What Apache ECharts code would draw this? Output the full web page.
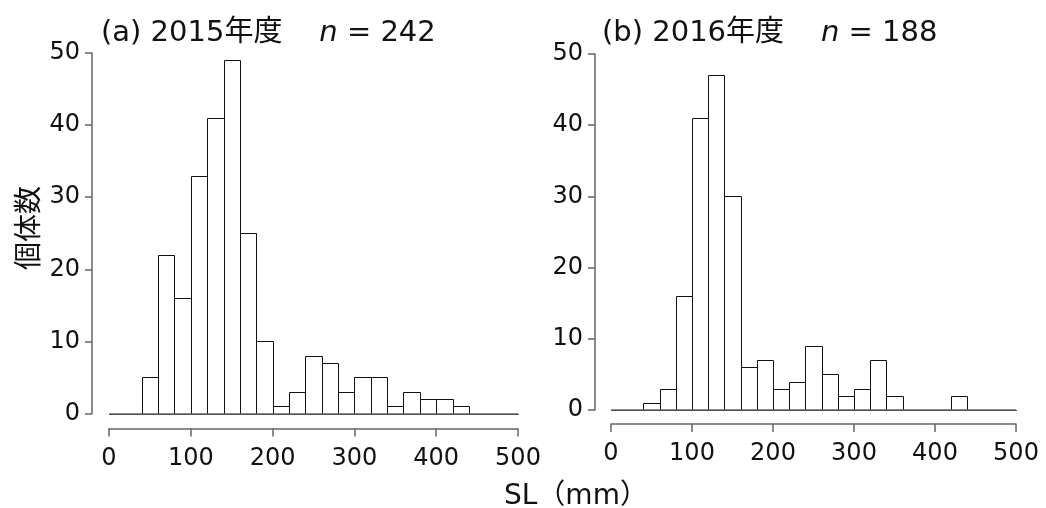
<!DOCTYPE html>
<html>
<head>
<meta charset="utf-8">
<script src="https://cdn.jsdelivr.net/npm/echarts@6/dist/echarts.min.js"></script>
<style>
  html, body { margin: 0; padding: 0; background: #fff; }
  #chart { width: 1046px; height: 508px; }
</style>
</head>
<body>
<div id="chart"></div>
<script>
// bin edges (mm), 20 mm wide
var binStart = [0, 20, 40, 60, 80, 100, 120, 140, 160, 180, 200, 220, 240, 260, 280, 300, 320, 340, 360, 380, 400, 420, 440, 460, 480];
var binEnd   = [20, 40, 60, 80, 100, 120, 140, 160, 180, 200, 220, 240, 260, 280, 300, 320, 340, 360, 380, 400, 420, 440, 460, 480, 500];
// 2015年度 counts
var count2015 = [0, 0, 5, 22, 16, 33, 41, 49, 25, 10, 1, 3, 8, 7, 3, 5, 5, 1, 3, 2, 2, 1, 0, 0, 0];
// 2016年度 counts
var count2016 = [0, 0, 1, 3, 16, 41, 47, 30, 6, 7, 3, 4, 9, 5, 2, 3, 7, 2, 0, 0, 0, 2, 0, 0, 0];
var xTicks = [0, 100, 200, 300, 400, 500];
var yTicks = [0, 10, 20, 30, 40, 50];

var FONT = "'DejaVu Sans', 'Noto Sans CJK JP', sans-serif";
var chart = echarts.init(document.getElementById('chart'));

function binData(counts) {
  var out = [];
  for (var i = 0; i < binStart.length; i++) {
    out.push([binStart[i], binEnd[i], counts[i]]);
  }
  return out;
}

function renderBin(params, api) {
  var p0 = api.coord([api.value(0), api.value(2)]);
  var p1 = api.coord([api.value(1), 0]);
  var x0 = Math.round(p0[0]) + 0.5, x1 = Math.round(p1[0]) + 0.5;
  var y0 = Math.round(p0[1]) + 0.5, y1 = Math.round(p1[1]) + 0.5;
  return {
    type: 'rect',
    shape: { x: x0, y: y0, width: x1 - x0, height: y1 - y0 },
    style: { fill: '#fff', stroke: '#111', lineWidth: 1 }
  };
}

function xAxisOpt(gridIndex, offset) {
  return {
    gridIndex: gridIndex,
    type: 'value',
    min: xTicks[0],
    max: xTicks[xTicks.length - 1],
    interval: 100,
    offset: offset,
    axisLine: { show: true, onZero: false, lineStyle: { color: '#666', width: 1.5 } },
    axisTick: { show: true, length: 8, lineStyle: { color: '#666', width: 1.5 } },
    axisLabel: { fontSize: 24, color: '#111', fontFamily: FONT, margin: 18 },
    splitLine: { show: false }
  };
}

function yAxisOpt(gridIndex, offset) {
  return {
    gridIndex: gridIndex,
    type: 'value',
    min: yTicks[0],
    max: yTicks[yTicks.length - 1],
    interval: 10,
    offset: offset,
    axisLine: { show: true, onZero: false, lineStyle: { color: '#666', width: 1.5 } },
    axisTick: { show: true, length: 7, lineStyle: { color: '#666', width: 1.5 } },
    axisLabel: { fontSize: 24, color: '#111', fontFamily: FONT, margin: 12 },
    splitLine: { show: false }
  };
}

function histSeries(idx, counts) {
  return {
    type: 'custom',
    xAxisIndex: idx,
    yAxisIndex: idx,
    renderItem: renderBin,
    encode: { x: [0, 1], y: 2 },
    data: binData(counts),
    silent: true,
    z: 3,
    markLine: {
      silent: true,
      symbol: 'none',
      label: { show: false },
      lineStyle: { color: '#666', width: 1.5, type: 'solid' },
      data: [{ yAxis: 0 }]
    }
  };
}

var titleRich = {
  a: { fontSize: 29, fontWeight: 'normal', color: '#111', fontFamily: FONT },
  n: { fontSize: 29, fontWeight: 'normal', color: '#111', fontFamily: FONT, fontStyle: 'italic' }
};

var option = {
  animation: false,
  backgroundColor: '#fff',
  title: [
    {
      text: '{a|(a) 2015年度}{a|    }{n|n}{a| = 242}',
      left: 96, top: 14,
      textStyle: { fontWeight: 'normal', rich: titleRich }
    },
    {
      text: '{a|(b) 2016年度}{a|    }{n|n}{a| = 188}',
      left: 597, top: 14,
      textStyle: { fontWeight: 'normal', rich: titleRich }
    },
    {
      text: 'SL（mm）',
      left: 499, top: 478,
      textStyle: { fontSize: 28, fontWeight: 'normal', color: '#111', fontFamily: FONT }
    }
  ],
  graphic: [
    {
      type: 'text',
      x: 27, y: 228,
      rotation: Math.PI / 2,
      style: {
        text: '個体数',
        fontSize: 28,
        fontFamily: "'Noto Sans CJK JP', sans-serif",
        fill: '#111',
        align: 'center',
        verticalAlign: 'middle'
      }
    }
  ],
  grid: [
    { left: 109, top: 53, width: 409, height: 360.5 },
    { left: 611, top: 54, width: 405, height: 356 }
  ],
  xAxis: [xAxisOpt(0, 15), xAxisOpt(1, 14)],
  yAxis: [yAxisOpt(0, 17), yAxisOpt(1, 16)],
  series: [histSeries(0, count2015), histSeries(1, count2016)]
};

chart.setOption(option);
</script>
</body>
</html>
